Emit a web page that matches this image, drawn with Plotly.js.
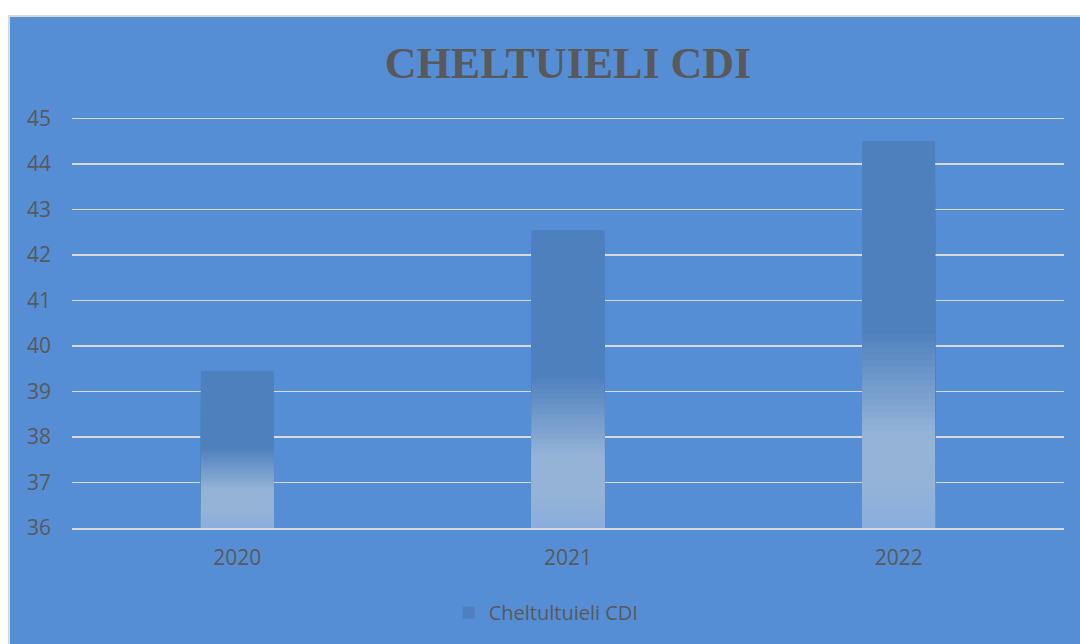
<!DOCTYPE html>
<html>
<head>
<meta charset="utf-8">
<script src="https://cdn.plot.ly/plotly-3.0.1.min.js"></script>
<style>
  html, body { margin: 0; padding: 0; background: #ffffff; width: 1080px; height: 644px; overflow: hidden; }
  #chart { position: absolute; left: 8px; top: 15px; width: 1072px; height: 629px;
           box-sizing: border-box; border-left: 2px solid #d9d9d9; border-top: 2px solid #d9d9d9; }
</style>
</head>
<body>
<div id="chart"></div>
<script>
// ---- data ----
const categories = ['2020', '2021', '2022'];
const values = [39.45, 42.55, 44.5];
const seriesName = 'Cheltultuieli CDI';
const chartTitle = 'CHELTUIELI CDI';
const yTicks = [36, 37, 38, 39, 40, 41, 42, 43, 44, 45];

// ---- gradient styling (drawn as overlaid bars, fractions of each bar's height) ----
const axisBase = 36;
const dark = [78, 128, 189], light = [149, 179, 215], bottom = [136, 173, 222];
function mix(a, b, t) { return a.map((v, i) => Math.round(v + (b[i] - v) * t)); }
function gradColor(f) {
  let c;
  if (f >= 0.52) c = dark;
  else if (f >= 0.25) c = mix(dark, light, (0.52 - f) / 0.27);
  else if (f >= 0.12) c = light;
  else c = mix(light, bottom, (0.12 - f) / 0.12);
  return 'rgb(' + c.join(',') + ')';
}
const fractions = [];
for (let k = 0; k < 60; k++) fractions.push(1 - k * (1 / 60));

const traces = fractions.map((f, i) => ({
  type: 'bar',
  x: categories,
  y: values.map(v => (v - axisBase) * f),
  base: axisBase,
  name: seriesName,
  showlegend: i === 0,
  marker: { color: gradColor(f), line: { width: 0 } },
  hoverinfo: 'skip'
}));

const layout = {
  width: 1070, height: 627,
  paper_bgcolor: '#558ed5',
  plot_bgcolor: '#558ed5',
  margin: { l: 62, r: 16, t: 100, b: 116 },
  barmode: 'overlay',
  bargap: 0.78,
  title: {
    text: '<b>' + chartTitle + '</b>',
    font: { family: 'Liberation Serif, Times New Roman, serif', size: 44, color: '#595959' },
    x: 0.5, xanchor: 'center', xref: 'paper',
    y: 0.928, yanchor: 'middle', yref: 'container'
  },
  xaxis: {
    type: 'category',
    tickfont: { family: 'Open Sans, Liberation Sans, sans-serif', size: 21, color: '#595959' },
    showgrid: false, zeroline: false,
    showline: true, linecolor: '#d9d9d9', linewidth: 2,
    ticks: '', ticklabelstandoff: 10
  },
  yaxis: {
    range: [36, 45.03],
    tickvals: yTicks,
    tickfont: { family: 'Open Sans, Liberation Sans, sans-serif', size: 21, color: '#595959' },
    showgrid: true, gridcolor: '#d9d9d9', gridwidth: 1.5,
    zeroline: false, showline: false, ticks: '',
    ticklabelstandoff: 20
  },
  legend: {
    orientation: 'h', x: 0.478, xanchor: 'center', y: -0.206, yanchor: 'middle',
    font: { family: 'Open Sans, Liberation Sans, sans-serif', size: 20, color: '#595959' },
    bgcolor: 'rgba(0,0,0,0)'
  },
  showlegend: true
};

Plotly.newPlot('chart', traces, layout, { displayModeBar: false, staticPlot: true });
</script>
</body>
</html>
